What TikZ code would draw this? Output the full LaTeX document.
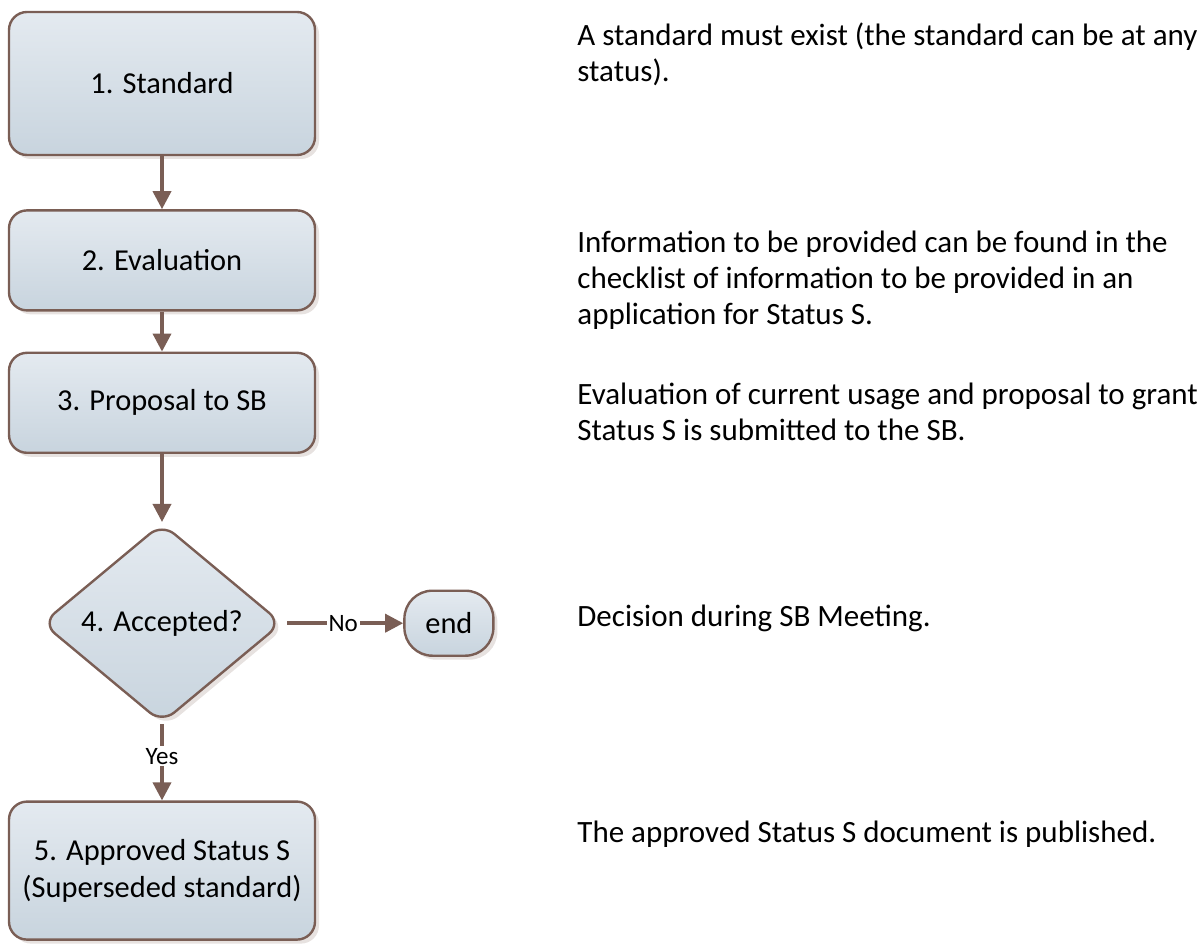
\documentclass[tikz,border=0pt]{standalone}
\usepackage{fontspec}
\setmainfont{Carlito}
\usetikzlibrary{positioning,shapes.geometric,arrows.meta,shadows}

\definecolor{edgebrown}{HTML}{7A5E55}
\definecolor{boxtop}{HTML}{E4EAF0}
\definecolor{boxbot}{HTML}{C8D4DE}

\begin{document}
\begin{tikzpicture}[x=0.5pt,y=-0.5pt,
		stepbox/.style={draw=edgebrown, line width=1.2pt, rounded corners=9pt,
			top color=boxtop, bottom color=boxbot, minimum width=153pt, align=center,
			font=\fontsize{15.2}{18.5}\selectfont,
			drop shadow={shadow xshift=2pt, shadow yshift=-2pt, fill=edgebrown!30, opacity=0.6}},
		decision/.style={stepbox, diamond, rounded corners=8pt, minimum width=120pt, minimum height=100pt, inner sep=0pt},
		endbox/.style={stepbox, minimum width=44.5pt, minimum height=32.5pt, rounded corners=14pt},
		flow/.style={draw=edgebrown, line width=1.8pt, -{Triangle[length=9pt,width=9pt]}},
		answer/.style={fill=white, inner sep=1pt, font=\fontsize{12.5}{15}\selectfont},
		remark/.style={anchor=west, align=left, inner sep=0pt, font=\fontsize{15.5}{18}\selectfont}]
		\useasboundingbox (0,0) rectangle (1203,945);

		% left column
		\node [stepbox, minimum height=71.5pt] (standard) at (162,83.5) {1. Standard};
		\node [stepbox, minimum height=50pt, below=26.5pt of standard] (evaluation) {2. Evaluation};
		\node [stepbox, minimum height=50pt, below=20pt of evaluation] (proposal) {3. Proposal to SB};
		\node [decision, below=34pt of proposal] (accepted) {4. Accepted?};
		\node [endbox, right=60pt of accepted] (end) {end};
		\node [stepbox, minimum height=69pt, below=38pt of accepted] (approved) {5. Approved Status S\\(Superseded standard)};

		\draw [flow] (standard) -- (evaluation);
		\draw [flow] (evaluation) -- (proposal);
		\draw [flow] (proposal) -- (accepted);
		\draw [flow, shorten <=2pt] (accepted) -- node [answer] {No} (end);
		\draw [flow] (accepted) -- node [answer, pos=0.42] {Yes} (approved);

		% notes
		\node [remark] (note1) at (577,54) {A standard must exist (the standard can be at any\\status).};
		\node [remark] (note2) at (577,280) {Information to be provided can be found in the\\checklist of information to be provided in an\\application for Status S.};
		\node [remark] (note3) at (577,412) {Evaluation of current usage and proposal to grant\\Status S is submitted to the SB.};
		\node [remark] (note4) at (577,618) {Decision during SB Meeting.};
		\node [remark] (note5) at (577,834) {The approved Status S document is published.};
\end{tikzpicture}
\end{document}
